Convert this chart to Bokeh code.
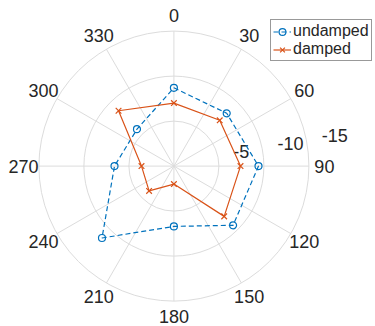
import numpy as np
from bokeh.plotting import figure
from bokeh.models import Range1d, Legend, LegendItem
from bokeh.core.properties import value
from bokeh.embed import file_html
from bokeh.resources import INLINE

# ---- data ----
angles_deg = [0, 45, 90, 135, 180, 225, 270, 315]
undamped = [-8.7, -8.3, -9.4, -9.3, -6.7, -11.3, -6.6, -5.8]
damped = [-7.0, -7.2, -7.4, -7.9, -2.0, -3.9, -3.6, -8.7]
theta_ticks = [0, 30, 60, 90, 120, 150, 180, 210, 240, 270, 300, 330]
r_ticks = [-5, -10, -15]
r_tick_labels = ["-5", "-10", "-15"]
r_axis_angle = 80
series_names = ["undamped", "damped"]

# ---- layout ----
W, H = 375, 326
S = 9.0                 # pixels per dB
cx, cy = 173.4, 165.6   # centre in figure pixels (from top-left)
RMAX = 15.0
LABEL_R = 16.72
FONT = "Liberation Sans"
TXT = "#262626"
GRID = "#dcdcdc"
BLUE = "#0072BD"
RED = "#D95319"

p = figure(width=W, height=H, output_backend="svg", toolbar_location=None,
           x_range=Range1d(-cx / S, (W - cx) / S),
           y_range=Range1d(-(H - cy) / S, cy / S),
           min_border=0, outline_line_color=None)
p.axis.visible = False
p.xgrid.visible = False
p.ygrid.visible = False


def to_xy(theta_deg, r):
    t = np.radians(np.asarray(theta_deg, dtype=float))
    r = np.asarray(r, dtype=float)
    return r * np.sin(t), r * np.cos(t)


# radial mapping: centre = 0 dB, outward = more negative
def rad(v):
    return -np.asarray(v, dtype=float)


# spokes
for th in theta_ticks:
    x, y = to_xy([th, th], [0, RMAX])
    p.line(x, y, line_color=GRID, line_width=1)

# rings
p.circle(x=[0, 0, 0], y=[0, 0, 0], radius=list(rad(r_ticks)), fill_color=None,
         line_color=GRID, line_width=1)

# angle labels
lx, ly = to_xy(theta_ticks, [LABEL_R] * len(theta_ticks))
p.text(x=lx, y=ly, text=[str(t) for t in theta_ticks], text_align="center",
       text_baseline="middle", text_font=value(FONT), text_font_size="18px",
       text_color=TXT)

# radial labels
rx, ry = to_xy([r_axis_angle] * len(r_ticks), rad(r_ticks))
p.text(x=rx, y=ry, text=r_tick_labels, text_align="left", text_baseline="middle",
       x_offset=15, y_offset=-7, text_font=value(FONT), text_font_size="18px",
       text_color=TXT)

# data series (closed loops)
ua = angles_deg + [angles_deg[0]]
ux, uy = to_xy(ua, rad(undamped + [undamped[0]]))
dx, dy = to_xy(ua, rad(damped + [damped[0]]))

l1 = p.line(ux, uy, line_color=BLUE, line_width=1.2, line_dash="5 3")
m1 = p.scatter(ux[:-1], uy[:-1], marker="circle", size=7, fill_color=None,
               line_color=BLUE, line_width=1.2)
l2 = p.line(dx, dy, line_color=RED, line_width=1.2)
m2 = p.scatter(dx[:-1], dy[:-1], marker="x", size=8, line_color=RED, line_width=1.2)

legend = Legend(items=[LegendItem(label=series_names[0], renderers=[l1, m1]),
                       LegendItem(label=series_names[1], renderers=[l2, m2])],
                location=(270, 265), orientation="vertical",
                label_text_font=FONT, label_text_font_size="16px",
                label_text_color=TXT, label_standoff=2,
                glyph_width=18, glyph_height=17, label_height=17,
                spacing=0, padding=2, margin=0,
                border_line_color="#333333", border_line_width=1,
                background_fill_color="white", background_fill_alpha=1)
p.add_layout(legend, "center")

open("out.html", "w").write(file_html(p, INLINE))
